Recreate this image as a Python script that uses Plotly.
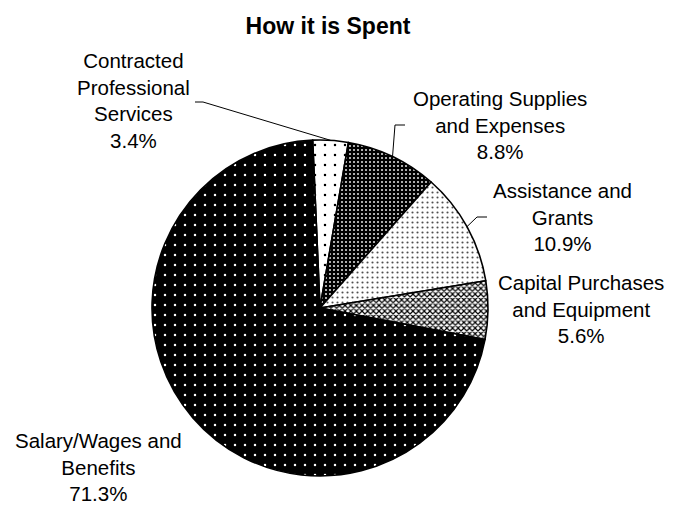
import math
import plotly.graph_objects as go

# ---- data ----
labels = ["Contracted Professional Services", "Operating Supplies and Expenses",
          "Assistance and Grants", "Capital Purchases and Equipment",
          "Salary/Wages and Benefits"]
label_text = ["Contracted<br>Professional<br>Services", "Operating Supplies<br>and Expenses",
              "Assistance and<br>Grants", "Capital Purchases<br>and Equipment",
              "Salary/Wages and<br>Benefits"]
values = [3.4, 8.8, 10.9, 5.6, 71.3]
title = "How it is Spent"

# ---- layout constants (pixels) ----
W, H = 674, 508
CX, CY, R = 320, 308, 168
ROTATION = -2.5
FONT = "Liberation Sans, Arial, sans-serif"

def px(x):
    return x / W

def py(y):
    return 1 - y / H

# pattern styles
shapes_p = [".", ".", ".", "x", "."]
fg = ["black", "#d8d8d8", "#505050", "black", "white"]
bg = ["white", "black", "white", "white", "black"]
psize = [10, 4, 5, 4, 10]
solid = [0.05, 0.22, 0.14, 0.5, 0.05]

fig = go.Figure(go.Pie(
    labels=labels, values=values, sort=False, direction="clockwise",
    rotation=ROTATION, textinfo="none", hoverinfo="label+percent",
    showlegend=False,
    marker=dict(colors=bg, line=dict(color="black", width=1.6),
                pattern=dict(shape=shapes_p, fgcolor=fg, bgcolor=bg,
                             size=psize, solidity=solid, fillmode="replace")),
    domain=dict(x=[px(CX - R), px(CX + R)], y=[py(CY + R), py(CY - R)]),
))

# label positions (center of text block), pixels
label_pos = [(133, 101), (500, 125), (562, 217), (581, 309), (98, 467)]
# leader line elbows: (elbow, end near label)
leaders = {0: [(203, 102), (195, 102)], 1: [(395, 125), (405, 125)], 2: [(477, 217), (487, 217)]}

total = sum(values)
ann = []
shp = []
cum = 0
for i, v in enumerate(values):
    pct = v / total * 100
    x, y = label_pos[i]
    ann.append(dict(text=f"{label_text[i]}<br>{pct:.1f}%", x=px(x), y=py(y),
                    xref="paper", yref="paper", xanchor="center", yanchor="middle",
                    showarrow=False, align="center",
                    font=dict(family=FONT, size=20.5, color="black")))
    mid = math.radians(ROTATION + (cum + v / 2) / total * 360)
    cum += v
    if i in leaders:
        ex = CX + R * math.sin(mid)
        ey = CY - R * math.cos(mid)
        pts = [(ex, ey)] + leaders[i]
        path = "M " + " L ".join(f"{px(a)},{py(b)}" for a, b in pts)
        shp.append(dict(type="path", path=path, xref="paper", yref="paper",
                        line=dict(color="black", width=1)))

fig.update_layout(
    width=W, height=H, margin=dict(l=0, r=0, t=0, b=0),
    paper_bgcolor="white", plot_bgcolor="white",
    title=dict(text=f"<b>{title}</b>", x=px(328), y=py(26), xanchor="center",
               yanchor="middle", font=dict(family=FONT, size=23, color="black")),
    annotations=ann, shapes=shp,
)

fig.write_html("out.html")
